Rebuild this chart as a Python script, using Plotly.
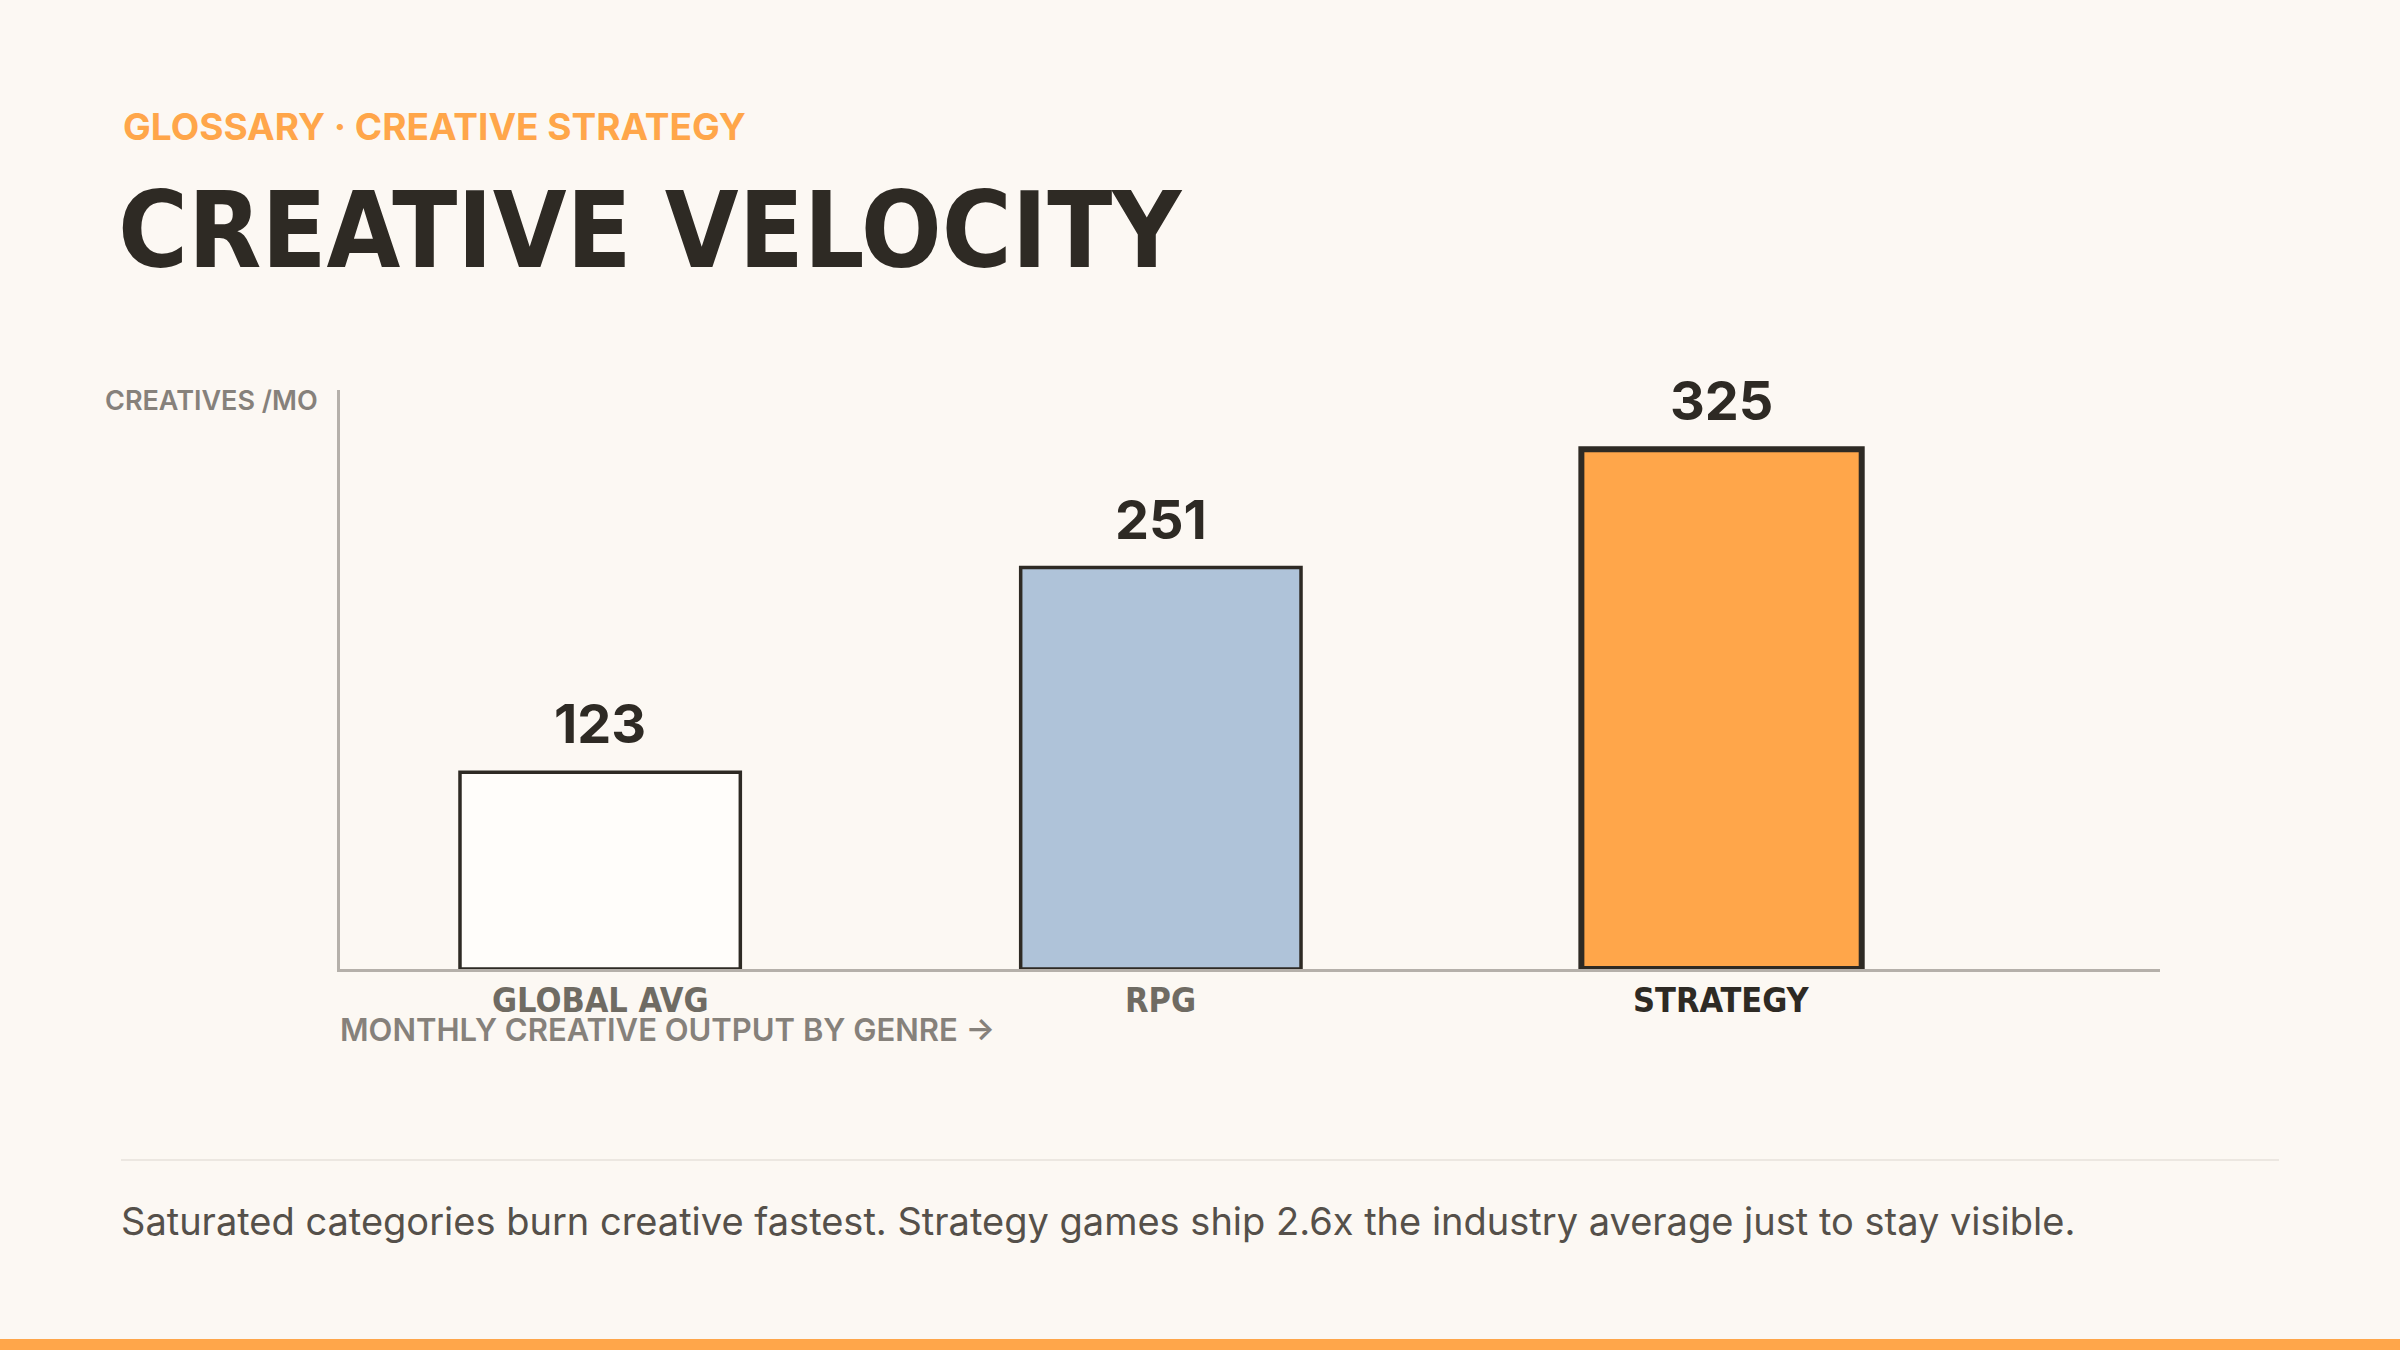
import plotly.graph_objects as go

# chart data
genres = ['GLOBAL AVG', 'RPG', 'STRATEGY']
creatives_per_month = [123, 251, 325]
value_labels = ['123', '251', '325']

eyebrow = 'GLOSSARY · CREATIVE STRATEGY'
title = 'CREATIVE VELOCITY'
y_label = 'CREATIVES /MO'
x_label = 'MONTHLY CREATIVE OUTPUT BY GENRE →'
footnote = 'Saturated categories burn creative fastest. Strategy games ship 2.6x the industry average just to stay visible.'

BG = '#FCF8F3'
DARK = '#2E2A24'
ORANGE = '#FFA64A'
AXIS = '#B5B0AA'
GREY = '#86817B'
TICK_GREY = '#6F6B63'
CONDENSED = 'DejaVu Sans Condensed, Liberation Sans Narrow, Roboto, sans-serif'
SANS = 'Inter, Roboto, sans-serif'

W, H = 2400, 1350

fig = go.Figure()
fig.add_trace(go.Bar(
    x=genres,
    y=creatives_per_month,
    width=0.5,
    marker=dict(
        color=['#FFFDFA', '#AFC3D9', ORANGE],
        line=dict(color=DARK, width=[3.5, 3.5, 6]),
    ),
    hoverinfo='skip',
))

# value labels above the bars
for g, v, t in zip(genres, creatives_per_month, value_labels):
    fig.add_annotation(x=g, y=v, xref='x', yref='y', text='<b>%s</b>' % t,
                       showarrow=False, yanchor='bottom', yshift=14,
                       font=dict(family=SANS, size=54, color=DARK))

# category labels under the axis
for g in genres:
    col = DARK if g == 'STRATEGY' else TICK_GREY
    fig.add_annotation(x=g, y=0, xref='x', yref='y', text='<b>%s</b>' % g,
                       showarrow=False, yanchor='middle', yshift=-31,
                       font=dict(family=CONDENSED, size=34, color=col))

# header / footer text (paper coords = figure fraction, margins are 0)
fig.add_annotation(x=121 / W, y=1 - 126 / H, xref='paper', yref='paper',
                   text='<b>%s</b>' % eyebrow, showarrow=False,
                   xanchor='left', yanchor='middle',
                   font=dict(family=SANS, size=37, color=ORANGE))
fig.add_annotation(x=116 / W, y=1 - 230 / H, xref='paper', yref='paper',
                   text='<b>%s</b>' % title, showarrow=False,
                   xanchor='left', yanchor='middle',
                   font=dict(family=CONDENSED, size=106, color=DARK))
fig.add_annotation(x=320 / W, y=1 - 400 / H, xref='paper', yref='paper',
                   text=y_label, showarrow=False,
                   xanchor='right', yanchor='middle',
                   font=dict(family=SANS, size=27, color=GREY, weight=600))
fig.add_annotation(x=338 / W, y=1 - 1029 / H, xref='paper', yref='paper',
                   text=x_label, showarrow=False,
                   xanchor='left', yanchor='middle',
                   font=dict(family=SANS, size=31, color=GREY, weight=600))
fig.add_annotation(x=119 / W, y=1 - 1221 / H, xref='paper', yref='paper',
                   text=footnote, showarrow=False,
                   xanchor='left', yanchor='middle',
                   font=dict(family=SANS, size=38, color='#55504A'))

# divider + bottom accent strip
fig.add_shape(type='line', xref='paper', yref='paper',
              x0=121 / W, x1=2279 / W, y0=1 - 1160 / H, y1=1 - 1160 / H,
              line=dict(color='#ECE7E1', width=2))
fig.add_shape(type='rect', xref='paper', yref='paper',
              x0=0, x1=1, y0=0, y1=11 / H, fillcolor=ORANGE, line_width=0)

fig.update_xaxes(
    domain=[340 / W, 2160 / W],
    range=[-0.464, 2.782],
    showline=True, linecolor=AXIS, linewidth=3,
    showticklabels=False, ticks='', showgrid=False, zeroline=False,
)
fig.update_yaxes(
    domain=[1 - 969 / H, 1 - 390 / H],
    range=[0, 362],
    showline=True, linecolor=AXIS, linewidth=3,
    showticklabels=False, ticks='', showgrid=False, zeroline=False,
)
fig.update_layout(
    width=W, height=H,
    margin=dict(l=0, r=0, t=0, b=0),
    paper_bgcolor=BG, plot_bgcolor=BG,
    showlegend=False,
)

fig.write_html('out.html', config={'displayModeBar': False},
               post_script="document.body.style.margin='0';")
